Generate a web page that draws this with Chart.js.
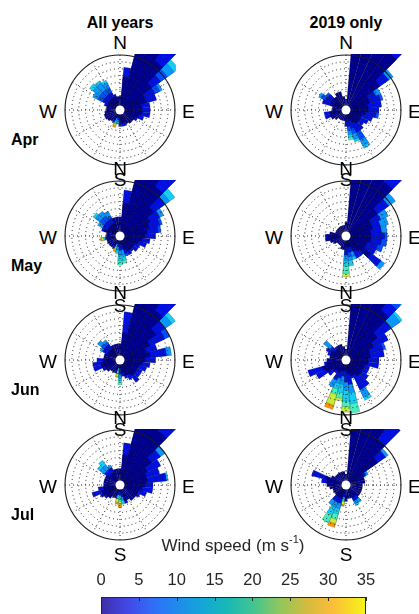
<!DOCTYPE html>
<html>
<head>
<meta charset="utf-8">
<script src="https://cdn.jsdelivr.net/npm/chart.js@4.4.1/dist/chart.umd.min.js"></script>
<style>
  html, body { margin:0; padding:0; background:#fff; }
  #wrap { position:relative; width:419px; height:614px; overflow:hidden; font-family:'Liberation Sans', Arial, Helvetica, sans-serif; }
  canvas { position:absolute; }
  .t { position:absolute; white-space:nowrap; line-height:1; color:#000; }
  .title { font-size:16px; font-weight:bold; transform:translateX(-50%); }
  .month { font-size:16px; font-weight:bold; }
  .cmp { font-size:19px; }
  .cx { transform:translateX(-50%); }
  .rx { transform:translateX(-100%); }
  .cbt { font-size:17px; color:#262626; transform:translateX(-50%); }
</style>
</head>
<body>
<div id="wrap"></div>
<script>
// ---------------- DATA ----------------
const directions = [0,10,20,30,40,50,60,70,80,90,100,110,120,130,140,150,160,170,180,190,200,210,220,230,240,250,260,270,280,290,300,310,320,330,340,350];
const columnTitles = ['All years', '2019 only'];
const months = ['Apr', 'May', 'Jun', 'Jul'];
const speedBins = ['0-4','4-8','8-12','12-16','16-20','20-24','24-28','28-32'];
const binColors = ['#000090','#0010e0','#0050ff','#0a96ff','#18ccf4','#48eec0','#c4ec3c','#ff9400'];
const speedTicks = [0,5,10,15,20,25,30,35];
const colorbarTitle = 'Wind speed (m s';

// frequency per direction, split by speed bin (circle edge = 10)
const aprAll = [[2.5],[6,1.8],[11,2],[13,5],[11,4,3],[7,2,1.5,1.5,1],[5,2,1,0.5],[5,1.9],[4,1.5],[4,1.5],[4,1.5],[3.5,1],[3,0.5],[3],[3],[2.8],[2.5,0.5],[2.5,0.5],[2,1],[1.2,0.6,0,0.4,0.4],[1,0.5,0,0.5,0.4,0.3,0.3,0.3],[2,0.5],[2.5],[2.8],[3],[3],[2.8],[2.5],[2.5],[2.5,0.5],[2.5,1,1,1],[2.5,1,1,1.5,0.8],[2.5,1,1,1.5,0.5],[2.5,1,1,1,0.5],[2.5,0.5],[2.5]];
const apr19 = [[2],[15],[15],[15],[13,3],[7.5,2,0,1],[4.5,1.5,0,1],[4.5,2,0.5],[4,2.5],[4,2],[3.5,2,0.5],[3,2],[3,1.5],[3,1],[3,1.5],[2.5,2,1.5,1.2,0.5],[2,1.5,1,1,0.5],[1.5,1.5,0.8,0.7,0.5,0.5],[2,1],[2],[2],[2],[2],[2.5],[3],[3,1],[3,1],[2.5],[2.5],[3,1.5],[3,1.2,0.8,0.5],[3,1,0.5],[3],[3.5],[3.5],[2.5]];
const mayAll = [[3.5],[6,2.4],[12,2],[13,5],[11,4,3],[7.5,2.5,0,1,1.2],[6,2,0,0.8],[5.5,2,0.5],[5,2,0.5],[4.5,2],[4,1.5],[3.5,1.5],[3,1],[3,1],[3,0.5],[3,0.8],[2.5,0.8,0.5],[1.5,1,0,1,1,0.5],[1.5,1,0,1,1,0.8],[1.2,0.8,0,0.5,0.5,0.3],[1,0.5,0,0,0.5,0.4,0.3,0.3],[2,0.5],[2.5],[2.5],[2.5],[2.5],[2,0.7,0,0,0.3,0,0.4,0.2],[2.5],[2.5],[3,0.5],[2.5,1,0,1],[2.5,1,1,1,0.5],[2.5,1,1,1],[2.5,1,0.5,1],[3.5],[3.5]];
const may19 = [[2.5],[15],[15],[15],[12,4],[7,2.5,0,1.5],[5,2,0,1.5],[5,1.5,0,1.5],[4.5,2,0,1],[4.5,2.5,0.5],[4.5,2,1],[4,2,1],[4,2],[5.5,2.3,0,0.8],[3.5,1],[3,1.5],[2,1,0,1,0.5],[2,1,0.8,0.7,1],[2,1.5,0,1,1,1.3,0.6],[2.5],[2.5],[2],[2],[2],[2.5],[3],[3.5,0.3],[3.5,0.3],[3],[2],[2],[2],[2],[2],[2],[2]];
const junAll = [[3],[5,3.8],[12,2],[13,5],[11,4,3],[8,2,0,1.5,0.8],[6,3,1],[5,2],[5.5,3,0,0.9],[4.5,2],[4,1.5],[3.5,1.5],[3.5,1],[3.5,1],[3.5,1.5],[3,1],[3,0.5],[2.5,0.5],[1.5,1,0,0.7,0.6,0.7],[1,0.5,0,0,0.5,0.5,0.5,0.2],[2,0.5],[2.5],[2.5],[3],[3,0.5],[3.5,1.5],[3.5,1.5],[3,1.2],[3],[3],[2.5,1,0,0.5],[2.5,1,0.7,0.8],[2.5,1,0.5,0.5],[3],[3],[3]];
const jun19 = [[2],[15],[15],[14,2],[11,2,1,2],[7,3,0,2,0.5],[5.5,3],[4.5,2.5,0.5],[4.5,2.5],[4,2],[4,2],[3.5,1],[3.5,1],[3.5,1.5],[3.5,2.5],[3,3,0,1.5,0.6],[3,0.5],[2.5,2,0,1.5,2,1.7],[2,2,0,1.5,2,1,1],[2,1,0,1.5,1.5,1,0.5],[2,1.5,0,1,1,1,2,0.8],[2.5,1.5,0,1.5],[2.5,0.5],[3,1],[4,2],[4.5,2.7],[3.5,0.5],[3.5],[3],[3,0.5],[3,1],[2.5,1,0,1.5],[2.5,0.5],[3],[3],[2.5]];
const julAll = [[3],[5.5,2.2],[12,2],[13,5],[12,4],[7,2,0,1.1],[5.5,2.7],[5,2.5],[5,3.5,0,0,0.3],[4.5,1.5],[4,2],[3.5,1.5],[3.5,0.5],[3.5],[3.5],[3],[3,0.5],[1.5,0.7,0,0.6,0.7],[1.2,0.6,0,0,0.6,0.6,0.6,0.5],[1.2,0.6,0,0,0.7,0,0.7,0.3],[2,0.5],[2.5],[3],[3,0.5],[3.5,0.5],[3.5,1.8],[3,1],[3],[3],[3],[3],[2.5,1,0,1,0.5],[2.5,1,0,1,1],[2.5,1,0,0.5],[3],[3]];
const jul19 = [[2],[15],[15],[14,2],[10,4],[7,1.8,0,0.6],[3.5,0.5,0,0.5],[3.5],[3.5],[3],[3],[3],[3],[3],[2.5,0.7,0,0.6,0.2],[2.5,0.7,0,0.6,0.4],[2.5],[2.5],[3],[1.5,0.7,0,0,0.8,0,0.6,0.3],[2.5,1,0,1,1,1,0.8,0.7],[2.5,1,0,1,1.5,1.6],[2.5,1,0,1],[2.5],[2.5],[2.5],[3],[3.5],[3.5,1],[4,2.5],[3],[2.5],[2.5],[2.5],[2.5],[2.5]];

const roses = [[aprAll, apr19],[mayAll, may19],[junAll, jun19],[julAll, jul19]];

// ---------------- LAYOUT ----------------
const FONT = "'Liberation Sans', Arial, Helvetica, sans-serif";
const colX = [120, 346];
const rowY = [110, 236, 360, 485];
const R = 55;
const wrap = document.getElementById('wrap');

function addText(cls, txt, left, top) {
  const d = document.createElement('div');
  d.className = 't ' + cls;
  d.textContent = txt;
  d.style.left = left + 'px';
  d.style.top = top + 'px';
  wrap.appendChild(d);
  return d;
}

const rosePlugin = {
  id: 'roseDeco',
  afterDatasetsDraw(chart) {
    const s = chart.scales.r, ctx = chart.ctx;
    const cx = s.xCenter, cy = s.yCenter, rad = s.drawingArea;
    ctx.save();
    ctx.strokeStyle = '#222';
    ctx.lineWidth = 1;
    ctx.setLineDash([1, 3]);
    s.ticks.forEach(t => {
      if (t.value > 0 && t.value < s.max) {
        const r = s.getDistanceFromCenterForValue(t.value);
        ctx.beginPath(); ctx.arc(cx, cy, r, 0, Math.PI * 2); ctx.stroke();
      }
    });
    for (let a = 0; a < 360; a += 30) {
      const th = a * Math.PI / 180;
      ctx.beginPath();
      ctx.moveTo(cx + 6 * Math.sin(th), cy - 6 * Math.cos(th));
      ctx.lineTo(cx + rad * Math.sin(th), cy - rad * Math.cos(th));
      ctx.stroke();
    }
    ctx.setLineDash([]);
    ctx.beginPath(); ctx.arc(cx, cy, rad, 0, Math.PI * 2);
    ctx.strokeStyle = '#1a1a1a'; ctx.lineWidth = 1.1; ctx.stroke();
    ctx.beginPath(); ctx.arc(cx, cy, 4.5, 0, Math.PI * 2);
    ctx.fillStyle = '#fff'; ctx.fill();
    ctx.restore();
  }
};

function buildDatasets(rose) {
  return binColors.map((col, b) => ({
    label: speedBins[b],
    data: rose.map(segs => {
      if (!(segs[b] > 0)) return 0;
      let s = 0;
      for (let k = 0; k <= b; k++) s += (segs[k] || 0);
      return s;
    }),
    backgroundColor: col,
    borderColor: 'rgba(0,0,0,0.35)',
    borderWidth: 0.5
  }));
}

roses.forEach((row, ri) => {
  row.forEach((rose, ci) => {
    const cx = colX[ci], cy = rowY[ri];
    const size = 2 * R + 2;
    const cv = document.createElement('canvas');
    cv.width = size; cv.height = size;
    cv.style.left = (cx - size / 2) + 'px';
    cv.style.top = (cy - size / 2) + 'px';
    wrap.appendChild(cv);
    new Chart(cv, {
      type: 'polarArea',
      data: { labels: directions.map(d => d + '°'), datasets: buildDatasets(rose) },
      options: {
        responsive: false, animation: false, devicePixelRatio: 1, events: [],
        layout: { padding: 1 },
        plugins: { legend: { display: false }, tooltip: { enabled: false } },
        scales: {
          r: {
            min: 0, max: 10, startAngle: -5,
            ticks: { display: false, stepSize: 1.25 },
            grid: { display: false },
            angleLines: { display: false },
            pointLabels: { display: false }
          }
        }
      },
      plugins: [rosePlugin]
    });
    // compass letters
    addText('cmp cx', 'N', cx, cy - 77);
    addText('cmp cx', 'S', cx, cy + 60);
    addText('cmp', 'E', cx + 62, cy - 8);
    addText('cmp rx', 'W', cx - 63, cy - 8);
  });
  addText('month', months[ri], 11, rowY[ri] + 21.5);
});

columnTitles.forEach((t, i) => addText('title', t, colX[i], 14.5));

// colorbar title
const cbt = addText('cbt', colorbarTitle, 233, 537);
const sup = document.createElement('span');
sup.textContent = '-1';
sup.style.fontSize = '11px';
sup.style.position = 'relative';
sup.style.top = '-8px';
cbt.appendChild(sup);
cbt.appendChild(document.createTextNode(')'));

// colorbar (horizontal speed scale, ticks on top)
const parula = [[0,'#3e2ea6'],[0.1,'#4248e6'],[0.2,'#2f6ff8'],[0.28,'#2188ee'],[0.38,'#14a6d8'],[0.48,'#18b9b6'],[0.58,'#45c58e'],[0.68,'#95c65a'],[0.78,'#d5bb3e'],[0.87,'#fbbc3b'],[1,'#f6f518']];
const CB_TOP = 560;
const cbPlugin = {
  id: 'cbar',
  afterDraw(chart) {
    const a = chart.chartArea, ctx = chart.ctx, x = chart.scales.x;
    const barTop = 597 - CB_TOP;
    const g = ctx.createLinearGradient(a.left, 0, a.right, 0);
    parula.forEach(p => g.addColorStop(p[0], p[1]));
    ctx.save();
    ctx.fillStyle = g;
    ctx.fillRect(a.left, barTop, a.right - a.left, 40);
    ctx.strokeStyle = '#262626'; ctx.lineWidth = 1;
    ctx.strokeRect(a.left + 0.5, barTop + 0.5, a.right - a.left - 1, 40);
    ctx.fillStyle = '#262626';
    ctx.font = '16.5px ' + FONT;
    ctx.textAlign = 'center';
    ctx.textBaseline = 'alphabetic';
    speedTicks.forEach(v => {
      const px = x.getPixelForValue(v);
      const pr = Math.round(px) + 0.5;
      ctx.beginPath(); ctx.moveTo(pr, barTop); ctx.lineTo(pr, barTop + 4); ctx.stroke();
      ctx.fillText(String(v), px, 585 - CB_TOP);
    });
    ctx.restore();
  }
};
const cb = document.createElement('canvas');
cb.width = 310; cb.height = 614 - CB_TOP;
cb.style.left = '80px'; cb.style.top = CB_TOP + 'px';
wrap.appendChild(cb);
new Chart(cb, {
  type: 'scatter',
  data: { datasets: [] },
  options: {
    responsive: false, animation: false, devicePixelRatio: 1, events: [],
    layout: { padding: { left: 21, right: 24, top: 0, bottom: 0 } },
    plugins: { legend: { display: false }, tooltip: { enabled: false } },
    scales: {
      x: { type: 'linear', display: false, min: 0, max: 35 },
      y: { display: false, min: 0, max: 1 }
    }
  },
  plugins: [cbPlugin]
});
</script>
</body>
</html>
